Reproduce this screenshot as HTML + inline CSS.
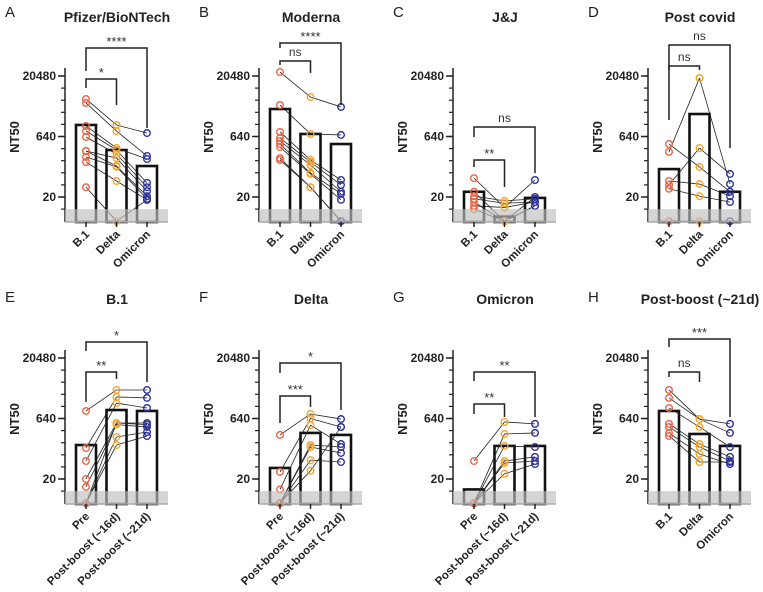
<!DOCTYPE html>
<html><head><meta charset="utf-8"><style>
body{margin:0;background:#fff;}
svg{display:block;font-family:"Liberation Sans",Arial,sans-serif;}
</style></head><body>
<svg id="fig" width="763" height="592" viewBox="0 0 763 592" xmlns="http://www.w3.org/2000/svg"></svg>
<script>
// ---- data (NT50 values; index-aligned pairs across categories) ----
const catsTop = ["B.1","Delta","Omicron"];
const catsBoost = ["Pre","Post-boost (~16d)","Post-boost (~21d)"];
const titles = ["Pfizer/BioNTech","Moderna","J&J","Post covid","B.1","Delta","Omicron","Post-boost (~21d)"];
const letters = ["A","B","C","D","E","F","G","H"];
const ticks = [20,640,20480];
const tickLabels = ["20","640","20480"];

const aS1=[5480,4370,1170,876,623,279,279,198,148,35];
const aS2=[1240,876,331,295,235,186,118,113,50,5];
const aS3=[780,210,176,45,35,28,21,18,17,17];
const aBars=[1240,295,118];

const bS1=[25700,3880,830,590,495,416,350,186,167];
const bS2=[6140,740,167,148,125,79,75,35,35];
const bS3=[3480,700,53,40,27,24,17,5,5];
const bBars=[3090,740,416];

const cS1=[59,27,21,18,15,12,10];
const cS2=[11,5,16,14,5,11,5];
const cS3=[53,20,18,15,12,15,12];
const cBars=[27,6.5,19];

const dS1=[416,264,50,40,32,5];
const dS2=[112,18200,42,331,21,5];
const dS3=[27,42,21,75,15,5];
const dBars=[99,2320,27];

const eS1=[985,118,56,20,12.7,5,5,5];
const eS2=[3280,2200,1550,495,450,222,140,495];
const eS3=[3280,2080,1170,495,394,295,235,450];
const eBars=[140,1040,985];

const fS1=[250,30,11,5,5,5,5];
const fS2=[830,640,440,140,125,59,32];
const fS3=[620,394,148,125,89,53,394];
const fBars=[37.6,280,250];

const gS1=[56,5,5,5,5,5];
const gS2=[525,264,133,56,50,27];
const gS3=[470,280,125,71,56,47];
const gBars=[11,133,133];

const hS1=[3280,2080,1170,470,394,280,235];
const hS2=[620,620,394,148,125,84,53];
const hS3=[470,280,125,71,56,47,53];
const hBars=[985,264,133];

const sig = [["****","*"],["****","ns"],["ns","**"],["ns","ns"],["*","**"],["*","***"],["**","**"],["***","ns"]];

// ---- layout ----
const svg=document.getElementById('fig');
const NS="http://www.w3.org/2000/svg";
function mk(tag,attrs,parent){const e=document.createElementNS(NS,tag);for(const k in attrs)e.setAttribute(k,attrs[k]);(parent||svg).appendChild(e);return e;}
const colors=["#ea6547","#f7a427","#2f3597"];
const panels=[
 {ax:65,row:0,s:[aS1,aS2,aS3],bars:aBars,cats:catsTop,br:[[48,71,128],[79,88,105]]},
 {ax:259,row:0,s:[bS1,bS2,bS3],bars:bBars,cats:catsTop,br:[[43,48,105],[61,65,73]]},
 {ax:453,row:0,s:[cS1,cS2,cS3],bars:cBars,cats:catsTop,br:[[127,137,173],[160,167,187]]},
 {ax:648,row:0,s:[dS1,dS2,dS3],bars:dBars,cats:catsTop,br:[[45,120,148],[66,70,70]]},
 {ax:65,row:1,s:[eS1,eS2,eS3],bars:eBars,cats:catsBoost,br:[[342,351,382],[372,402,379]]},
 {ax:259,row:1,s:[fS1,fS2,fS3],bars:fBars,cats:catsBoost,br:[[363,373,410],[396,423,407]]},
 {ax:453,row:1,s:[gS1,gS2,gS3],bars:gBars,cats:catsBoost,br:[[372,381,417],[404,414,417]]},
 {ax:648,row:1,s:[hS1,hS2,hS3],bars:hBars,cats:catsTop,br:[[339,347,417],[372,377,382]]}
];
const PX=12.1;
panels.forEach((p,pi)=>{
  const y20=p.row?479:197, base=y20+25, top=y20-129;
  const yS=v=>y20-PX*Math.log2(v/20);
  const xC=i=>p.ax+21+i*30.5;
  const g=mk('g',{});
  
  
  const L=mk('text',{x:p.ax-60,y:(p.row?302:17),'font-size':15,fill:'#222'},g);L.textContent=letters[pi];
  
  const T=mk('text',{x:p.ax+52,y:(p.row?304:22),'font-size':14,'font-weight':'bold','text-anchor':'middle',fill:'#222'},g);T.textContent=titles[pi];
  
  const YT=mk('text',{transform:`translate(${p.ax-46},${y20-60}) rotate(-90)`,'font-size':13,'font-weight':'bold','text-anchor':'middle',fill:'#222'},g);YT.textContent="NT50";
  
  // axis
  const ax=mk('line',{x1:p.ax,y1:top,x2:p.ax,y2:base,stroke:'#222','stroke-width':1.5},g);
  
  for(let k=-1;k<=10;k++){const y=y20-PX*k;mk('line',{x1:p.ax-4,y1:y,x2:p.ax,y2:y,stroke:'#222','stroke-width':1.2},g);}
  ticks.forEach((t,i)=>{const y=yS(t);mk('line',{x1:p.ax-7,y1:y,x2:p.ax,y2:y,stroke:'#222','stroke-width':1.5},g);
    const tl=mk('text',{x:p.ax-9,y:y+4,'font-size':12,'font-weight':'bold','text-anchor':'end',fill:'#222'},g);tl.textContent=tickLabels[i];
    });
  // bars
  p.bars.forEach((b,i)=>{const r=mk('rect',{x:xC(i)-10,y:yS(b),width:20,height:base-yS(b),fill:'#fff',stroke:'#111','stroke-width':2.6},g);
    });
  // lines
  const n=p.s[0].length;
  for(let j=0;j<n;j++){for(let c=0;c<2;c++){const ln=mk('line',{x1:xC(c),y1:yS(p.s[c][j]),x2:xC(c+1),y2:yS(p.s[c+1][j]),stroke:'#222','stroke-width':0.8},g);
    }}
  // points
  for(let c=0;c<3;c++)p.s[c].forEach(v=>{const pt=mk('circle',{cx:xC(c),cy:yS(v),r:3.3,fill:'none',stroke:colors[c],'stroke-width':1.4},g);
    });
  // LOD band
  const band=mk('rect',{x:p.ax,y:yS(10),width:103,height:base-yS(10),fill:'rgba(190,190,190,0.65)'},g);
  
  mk('line',{x1:p.ax,y1:base,x2:p.ax+103,y2:base,stroke:'#aaa','stroke-width':1.5},g);
  // x ticks & labels
  p.cats.forEach((c,i)=>{mk('line',{x1:xC(i),y1:base,x2:xC(i),y2:base+5,stroke:'#222','stroke-width':1.5},g);
    const xl=mk('text',{transform:`translate(${xC(i)+4},${base+13}) rotate(-45)`,'font-size':11.5,'font-weight':'bold','text-anchor':'end',fill:'#222'},g);xl.textContent=c;
    });
  // brackets
  p.br.forEach((b,k)=>{const x1=xC(0),x2=xC(k===0?2:1);
    const pl=mk('polyline',{points:`${x1},${b[1]} ${x1},${b[0]} ${x2},${b[0]} ${x2},${b[2]}`,fill:'none',stroke:'#222','stroke-width':1.5},g);
    
    const lab=sig[pi][k];const st=mk('text',{x:(x1+x2)/2,y:b[0]-(lab==='ns'?5:2),'font-size':lab==='ns'?12:13,'text-anchor':'middle',fill:'#333'},g);st.textContent=lab;
    });
});
</script>
</body></html>
